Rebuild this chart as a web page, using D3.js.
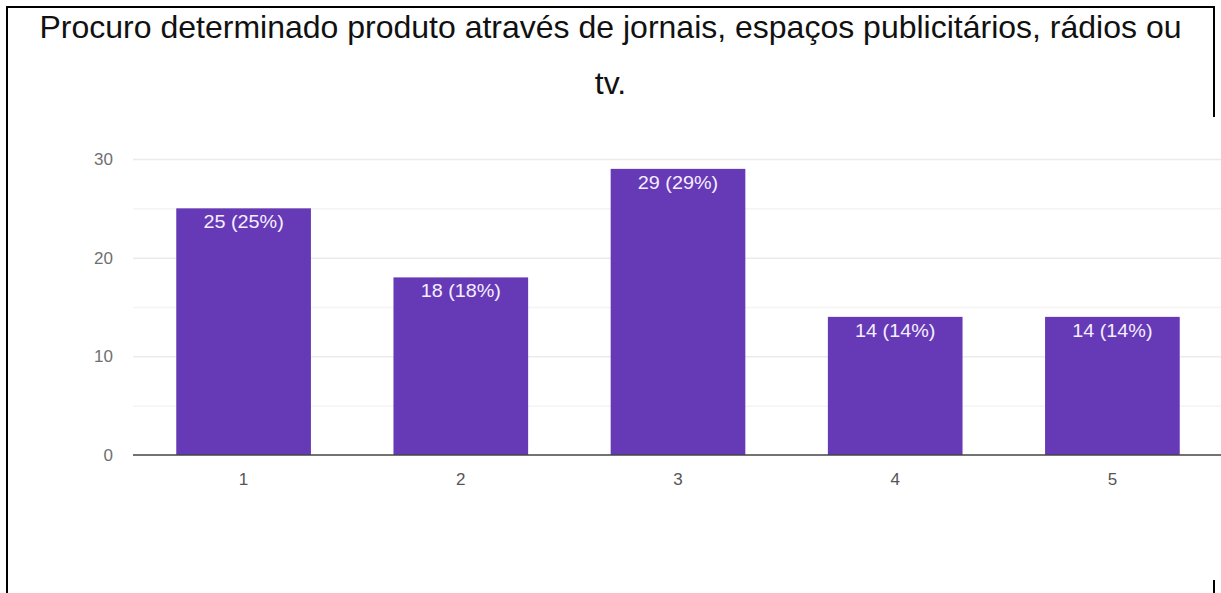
<!DOCTYPE html>
<html>
<head>
<meta charset="utf-8">
<script src="https://cdn.jsdelivr.net/npm/d3@7"></script>
<style>
  html, body { margin: 0; padding: 0; background: #fff; }
  svg { display: block; }
</style>
</head>
<body>
<svg id="chart" width="1221" height="593"></svg>
<script>
// Survey responses per scale point
const categories = ["1", "2", "3", "4", "5"];
const counts = [25, 18, 29, 14, 14];
const percents = [25, 18, 29, 14, 14];
const yTicks = [0, 10, 20, 30];
const gridValues = [5, 10, 15, 20, 25, 30];
const titleLines = [
  "Procuro determinado produto através de jornais, espaços publicitários, rádios ou",
  "tv."
];

const W = 1221, H = 593;
const svg = d3.select("#chart");
const FONT = "Liberation Sans, Arial, sans-serif";

const plot = { left: 133, right: 1221, top: 159, bottom: 455 };

const x = d3.scaleBand()
  .domain(categories)
  .range([plot.left + 2, plot.right])
  .paddingInner(0.38)
  .paddingOuter(0.19);

const y = d3.scaleLinear()
  .domain([0, 30])
  .range([plot.bottom, plot.top]);

// Frame around the figure
const frame = svg.append("g").attr("stroke", "#000").attr("stroke-width", 2).attr("fill", "none");
frame.append("path").attr("d", `M7,${H} L7,7 L1214,7 L1214,117`);
frame.append("path").attr("d", `M1214,580 L1214,${H}`);

// Title
svg.append("g")
  .selectAll("text")
  .data(titleLines)
  .join("text")
  .attr("x", W / 2)
  .attr("y", (d, i) => 38 + i * 56)
  .attr("text-anchor", "middle")
  .attr("font-family", FONT)
  .attr("font-size", 32)
  .attr("fill", "#111")
  .text(d => d);

// Horizontal gridlines
svg.append("g")
  .selectAll("line")
  .data(gridValues)
  .join("line")
  .attr("x1", plot.left)
  .attr("x2", plot.right)
  .attr("y1", d => y(d) + 0.5)
  .attr("y2", d => y(d) + 0.5)
  .attr("stroke", d => d % 10 === 0 ? "#ebebeb" : "#f4f4f4")
  .attr("stroke-width", 1.5);

// Y axis labels
const yAxis = d3.axisLeft(y).tickValues(yTicks).tickSize(0).tickPadding(20);
const gy = svg.append("g").attr("transform", `translate(${plot.left},0)`).call(yAxis);
gy.select(".domain").remove();
gy.selectAll("text")
  .attr("font-family", FONT)
  .attr("font-size", 17)
  .attr("fill", "#707070");

// Bars
svg.append("g")
  .selectAll("rect")
  .data(categories)
  .join("rect")
  .attr("x", d => x(d))
  .attr("width", x.bandwidth())
  .attr("y", (d, i) => y(counts[i]))
  .attr("height", (d, i) => y(0) - y(counts[i]))
  .attr("fill", "#6639b6");

// Value labels inside bar tops
svg.append("g")
  .selectAll("text")
  .data(categories)
  .join("text")
  .attr("transform", (d, i) => `translate(${x(d) + x.bandwidth() / 2},${y(counts[i]) + 20}) scale(1.1,1)`)
  .attr("text-anchor", "middle")
  .attr("font-family", FONT)
  .attr("font-size", 18)
  .attr("fill", "#f4efff")
  .text((d, i) => `${counts[i]} (${percents[i]}%)`);

// X axis
const xAxis = d3.axisBottom(x).tickSize(0).tickPadding(18);
const gx = svg.append("g").attr("transform", `translate(0,${plot.bottom})`).call(xAxis);
gx.select(".domain").remove();
gx.selectAll("text")
  .attr("font-family", FONT)
  .attr("font-size", 17)
  .attr("fill", "#555");

svg.append("line")
  .attr("x1", plot.left)
  .attr("x2", plot.right)
  .attr("y1", plot.bottom)
  .attr("y2", plot.bottom)
  .attr("stroke", "#444")
  .attr("stroke-width", 1.5);
</script>
</body>
</html>
